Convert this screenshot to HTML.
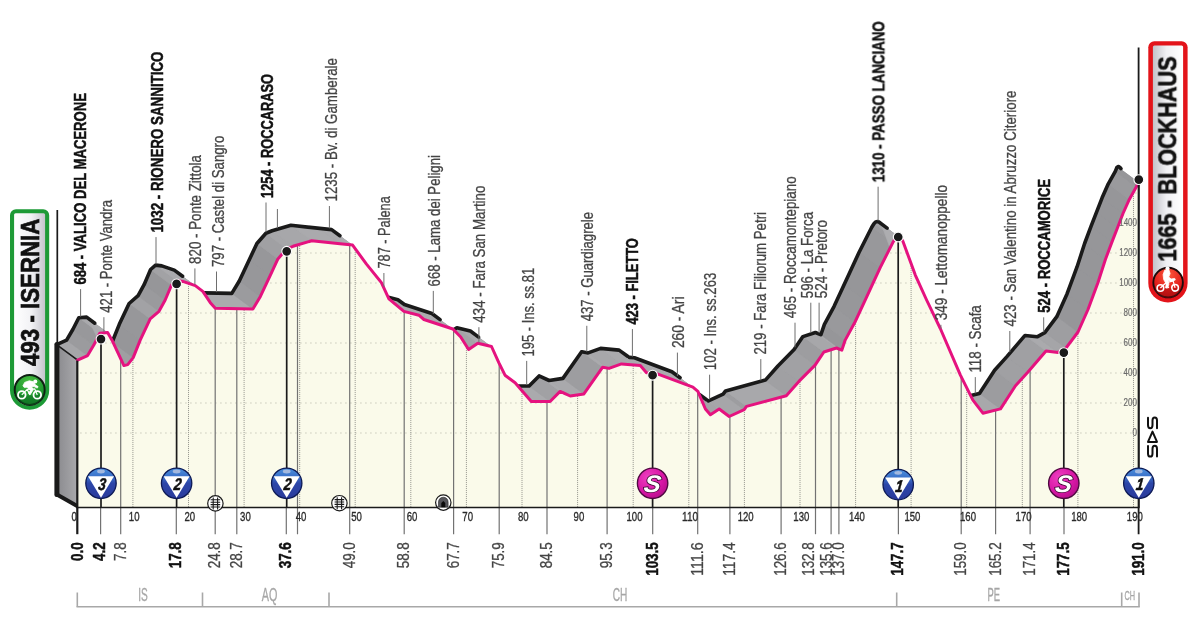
<!DOCTYPE html>
<html lang="en">
<head>
<meta charset="utf-8">
<title>Stage profile: Isernia - Blockhaus</title>
<style>
html,body{margin:0;padding:0;background:#fff;}
body{width:1200px;height:635px;overflow:hidden;font-family:"Liberation Sans",sans-serif;}
svg{display:block;}
svg text{font-family:"Liberation Sans",sans-serif;}
</style>
</head>
<body>
<svg width="1200" height="635" viewBox="0 0 1200 635">
<rect width="1200" height="635" fill="#fff"/>
<g opacity="0.999">
<defs>
<linearGradient id="wallg" x1="0" x2="1" y1="0" y2="0"><stop offset="0" stop-color="#8a8a8e"/><stop offset="1" stop-color="#a9a9ac"/></linearGradient>
<linearGradient id="stg" x1="0" x2="1" y1="0" y2="0"><stop offset="0" stop-color="#ffffff"/><stop offset="0.55" stop-color="#f2f2f5"/><stop offset="1" stop-color="#c4c4cc"/></linearGradient>
<linearGradient id="fig" x1="0" x2="1" y1="0" y2="0"><stop offset="0" stop-color="#c2c2c8"/><stop offset="0.45" stop-color="#f0f0f3"/><stop offset="1" stop-color="#ffffff"/></linearGradient>
<linearGradient id="komg" x1="0" x2="0" y1="0" y2="1"><stop offset="0" stop-color="#4a8fdc"/><stop offset="0.3" stop-color="#3a6fc8"/><stop offset="0.5" stop-color="#2c46a8"/><stop offset="1" stop-color="#2a3a9c"/></linearGradient>
<radialGradient id="sprg" cx="0.35" cy="0.3" r="0.8"><stop offset="0" stop-color="#ee3fc0"/><stop offset="0.6" stop-color="#d816a6"/><stop offset="1" stop-color="#b00e86"/></radialGradient>
<radialGradient id="grng" cx="0.5" cy="0.25" r="0.8"><stop offset="0" stop-color="#4cc040"/><stop offset="0.6" stop-color="#219a32"/><stop offset="1" stop-color="#127a28"/></radialGradient>
<radialGradient id="redg" cx="0.5" cy="0.25" r="0.8"><stop offset="0" stop-color="#ff5a3c"/><stop offset="0.6" stop-color="#e3201c"/><stop offset="1" stop-color="#b80f12"/></radialGradient>
<clipPath id="fc"><polygon points="77.6,360.1 87.6,355.6 93.8,345.1 99.8,333.2 107.6,332.6 112.6,341.3 123.9,365.6 127.7,364.6 133.2,357.6 140.2,340.1 150.2,318.8 159.0,311.3 165.2,300.0 171.5,285.1 176.5,280.6 182.8,281.4 195.3,285.6 202.8,291.4 210.3,302.7 215.3,308.2 252.9,308.9 260.4,296.4 270.4,275.1 277.9,258.9 286.7,248.8 293.0,246.3 311.7,240.8 340.0,243.8 352.6,245.1 366.3,263.9 381.4,282.6 388.9,298.9 403.9,311.4 418.9,315.2 423.9,319.5 452.9,329.0 460.7,337.0 468.6,349.5 477.8,343.2 491.5,346.5 498.8,362.6 505.0,375.2 515.1,382.7 531.3,401.5 550.1,401.5 560.1,391.4 570.2,396.0 583.9,393.9 602.7,367.2 609.0,368.4 621.5,363.9 640.3,365.6 646.5,372.7 655.3,373.2 692.9,387.2 697.9,391.4 705.4,409.0 710.4,414.7 719.2,409.0 729.2,416.5 744.2,409.7 746.5,406.4 786.3,395.7 798.9,381.4 815.1,365.1 823.9,352.0 836.4,348.0 841.8,350.2 845.2,340.1 855.0,322.0 865.2,300.1 880.2,267.6 892.8,242.6 895.0,238.9 896.6,237.4 898.2,236.9 899.8,237.5 901.2,238.6 902.8,241.0 915.3,275.1 926.6,300.0 940.3,328.5 960.4,375.1 972.9,400.2 982.9,413.2 1000.5,408.9 1015.5,385.8 1028.0,372.0 1046.0,351.0 1058.0,352.4 1066.0,348.0 1078.0,332.0 1088.0,309.5 1098.0,282.5 1105.4,259.5 1112.0,241.9 1117.5,227.7 1123.0,213.5 1129.3,199.4 1136.4,186.8 1138.5,181.5 1138.5,507.5 77.6,507.5"/></clipPath>
</defs>
<clipPath id="bc"><polygon points="56.6,344.6 66.6,340.1 72.8,329.5 78.8,317.7 86.6,317.1 107.6,332.6 112.6,341.1 119.3,324.3 129.1,303.5 138.1,295.6 144.1,284.7 150.6,269.5 155.6,265.1 161.8,265.9 174.3,270.1 195.3,285.6 202.6,291.2 203.8,292.9 231.8,293.4 239.3,281.0 257.1,243.2 265.9,233.2 272.1,230.8 290.9,225.3 331.6,229.6 352.6,245.1 366.4,264.0 381.4,282.5 388.1,297.2 397.9,299.7 404.4,304.5 431.9,313.5 452.9,329.0 453.6,329.7 453.9,329.7 456.9,327.7 470.4,331.0 491.6,346.7 498.9,362.7 505.1,375.3 515.1,382.7 518.1,386.0 529.1,386.0 539.1,375.9 549.1,380.5 562.9,378.4 581.6,351.8 581.9,351.7 588.1,352.9 600.6,348.4 619.4,350.2 629.1,357.4 634.4,357.7 671.9,371.7 693.1,387.4 697.9,391.4 699.1,394.2 708.4,400.9 723.1,394.2 725.6,390.9 765.4,380.1 777.9,366.0 794.1,349.6 802.9,336.6 815.4,332.5 820.6,334.6 820.9,334.6 824.4,324.3 834.1,306.3 859.4,251.8 871.9,227.0 874.1,223.3 875.6,221.9 877.1,221.4 878.9,222.0 899.9,237.5 901.1,238.5 902.9,241.1 915.4,275.2 926.6,300.0 940.4,328.6 960.4,375.0 970.6,395.6 979.4,393.4 979.6,393.2 994.6,370.2 1007.1,356.4 1024.8,335.7 1025.1,335.5 1037.1,336.8 1044.8,332.6 1056.8,316.7 1067.1,293.7 1077.1,266.7 1084.6,243.5 1091.1,226.1 1101.8,198.4 1108.3,183.8 1115.3,171.4 1117.3,166.4 1138.3,181.9 1138.5,181.5 1136.4,186.8 1129.3,199.4 1123.0,213.5 1117.5,227.7 1112.0,241.9 1105.4,259.5 1098.0,282.5 1088.0,309.5 1078.0,332.0 1066.0,348.0 1058.0,352.4 1046.0,351.0 1028.0,372.0 1015.5,385.8 1000.5,408.9 982.9,413.2 972.9,400.2 960.4,375.1 940.3,328.5 926.6,300.0 915.3,275.1 902.8,241.0 901.2,238.6 899.8,237.5 898.2,236.9 896.6,237.4 895.0,238.9 892.8,242.6 880.2,267.6 865.2,300.1 855.0,322.0 845.2,340.1 841.8,350.2 836.4,348.0 823.9,352.0 815.1,365.1 798.9,381.4 786.3,395.7 746.5,406.4 744.2,409.7 729.2,416.5 719.2,409.0 710.4,414.7 705.4,409.0 697.9,391.4 692.9,387.2 655.3,373.2 646.5,372.7 640.3,365.6 621.5,363.9 609.0,368.4 602.7,367.2 583.9,393.9 570.2,396.0 560.1,391.4 550.1,401.5 531.3,401.5 515.1,382.7 505.0,375.2 498.8,362.6 491.5,346.5 477.8,343.2 468.6,349.5 460.7,337.0 452.9,329.0 423.9,319.5 418.9,315.2 403.9,311.4 388.9,298.9 381.4,282.6 366.3,263.9 352.6,245.1 340.0,243.8 311.7,240.8 293.0,246.3 286.7,248.8 277.9,258.9 270.4,275.1 260.4,296.4 252.9,308.9 215.3,308.2 210.3,302.7 202.8,291.4 195.3,285.6 182.8,281.4 176.5,280.6 171.5,285.1 165.2,300.0 159.0,311.3 150.2,318.8 140.2,340.1 133.2,357.6 127.7,364.6 123.9,365.6 112.6,341.3 107.6,332.6 99.8,333.2 93.8,345.1 87.6,355.6 77.6,360.1"/></clipPath>
<polygon points="56.6,344.6 66.6,340.1 72.8,329.5 78.8,317.7 86.6,317.1 107.6,332.6 112.6,341.1 119.3,324.3 129.1,303.5 138.1,295.6 144.1,284.7 150.6,269.5 155.6,265.1 161.8,265.9 174.3,270.1 195.3,285.6 202.6,291.2 203.8,292.9 231.8,293.4 239.3,281.0 257.1,243.2 265.9,233.2 272.1,230.8 290.9,225.3 331.6,229.6 352.6,245.1 366.4,264.0 381.4,282.5 388.1,297.2 397.9,299.7 404.4,304.5 431.9,313.5 452.9,329.0 453.6,329.7 453.9,329.7 456.9,327.7 470.4,331.0 491.6,346.7 498.9,362.7 505.1,375.3 515.1,382.7 518.1,386.0 529.1,386.0 539.1,375.9 549.1,380.5 562.9,378.4 581.6,351.8 581.9,351.7 588.1,352.9 600.6,348.4 619.4,350.2 629.1,357.4 634.4,357.7 671.9,371.7 693.1,387.4 697.9,391.4 699.1,394.2 708.4,400.9 723.1,394.2 725.6,390.9 765.4,380.1 777.9,366.0 794.1,349.6 802.9,336.6 815.4,332.5 820.6,334.6 820.9,334.6 824.4,324.3 834.1,306.3 859.4,251.8 871.9,227.0 874.1,223.3 875.6,221.9 877.1,221.4 878.9,222.0 899.9,237.5 901.1,238.5 902.9,241.1 915.4,275.2 926.6,300.0 940.4,328.6 960.4,375.0 970.6,395.6 979.4,393.4 979.6,393.2 994.6,370.2 1007.1,356.4 1024.8,335.7 1025.1,335.5 1037.1,336.8 1044.8,332.6 1056.8,316.7 1067.1,293.7 1077.1,266.7 1084.6,243.5 1091.1,226.1 1101.8,198.4 1108.3,183.8 1115.3,171.4 1117.3,166.4 1138.3,181.9 1138.5,181.5 1136.4,186.8 1129.3,199.4 1123.0,213.5 1117.5,227.7 1112.0,241.9 1105.4,259.5 1098.0,282.5 1088.0,309.5 1078.0,332.0 1066.0,348.0 1058.0,352.4 1046.0,351.0 1028.0,372.0 1015.5,385.8 1000.5,408.9 982.9,413.2 972.9,400.2 960.4,375.1 940.3,328.5 926.6,300.0 915.3,275.1 902.8,241.0 901.2,238.6 899.8,237.5 898.2,236.9 896.6,237.4 895.0,238.9 892.8,242.6 880.2,267.6 865.2,300.1 855.0,322.0 845.2,340.1 841.8,350.2 836.4,348.0 823.9,352.0 815.1,365.1 798.9,381.4 786.3,395.7 746.5,406.4 744.2,409.7 729.2,416.5 719.2,409.0 710.4,414.7 705.4,409.0 697.9,391.4 692.9,387.2 655.3,373.2 646.5,372.7 640.3,365.6 621.5,363.9 609.0,368.4 602.7,367.2 583.9,393.9 570.2,396.0 560.1,391.4 550.1,401.5 531.3,401.5 515.1,382.7 505.0,375.2 498.8,362.6 491.5,346.5 477.8,343.2 468.6,349.5 460.7,337.0 452.9,329.0 423.9,319.5 418.9,315.2 403.9,311.4 388.9,298.9 381.4,282.6 366.3,263.9 352.6,245.1 340.0,243.8 311.7,240.8 293.0,246.3 286.7,248.8 277.9,258.9 270.4,275.1 260.4,296.4 252.9,308.9 215.3,308.2 210.3,302.7 202.8,291.4 195.3,285.6 182.8,281.4 176.5,280.6 171.5,285.1 165.2,300.0 159.0,311.3 150.2,318.8 140.2,340.1 133.2,357.6 127.7,364.6 123.9,365.6 112.6,341.3 107.6,332.6 99.8,333.2 93.8,345.1 87.6,355.6 77.6,360.1" fill="#a4a4a8"/>
<g clip-path="url(#bc)" stroke-linejoin="round">
<polygon points="77.6,360.1 87.6,355.6 66.6,340.1 56.6,344.6" fill="#a6a6a9" stroke="#a6a6a9" stroke-width="0.6"/>
<polygon points="87.6,355.6 93.8,345.1 72.8,329.6 66.6,340.1" fill="#9b9b9e" stroke="#9b9b9e" stroke-width="0.6"/>
<polygon points="93.8,345.1 99.8,333.2 78.8,317.7 72.8,329.6" fill="#98989b" stroke="#98989b" stroke-width="0.6"/>
<polygon points="99.8,333.2 107.6,332.6 86.6,317.1 78.8,317.7" fill="#a9a9ac" stroke="#a9a9ac" stroke-width="0.6"/>
<polygon points="107.6,332.6 112.6,341.3 91.6,325.8 86.6,317.1" fill="#adadb0" stroke="#adadb0" stroke-width="0.6"/>
<polygon points="112.6,341.3 123.9,365.6 102.9,350.1 91.6,325.8" fill="#adadb0" stroke="#adadb0" stroke-width="0.6"/>
<polygon points="123.9,365.6 127.7,364.6 106.7,349.1 102.9,350.1" fill="#a8a8ab" stroke="#a8a8ab" stroke-width="0.6"/>
<polygon points="127.7,364.6 133.2,357.6 112.2,342.1 106.7,349.1" fill="#9f9fa2" stroke="#9f9fa2" stroke-width="0.6"/>
<polygon points="133.2,357.6 140.2,340.1 119.2,324.6 112.2,342.1" fill="#969699" stroke="#969699" stroke-width="0.6"/>
<polygon points="140.2,340.1 150.2,318.8 129.2,303.3 119.2,324.6" fill="#97979a" stroke="#97979a" stroke-width="0.6"/>
<polygon points="150.2,318.8 159.0,311.3 138.0,295.8 129.2,303.3" fill="#a2a2a5" stroke="#a2a2a5" stroke-width="0.6"/>
<polygon points="159.0,311.3 165.2,300.0 144.2,284.5 138.0,295.8" fill="#9a9a9d" stroke="#9a9a9d" stroke-width="0.6"/>
<polygon points="165.2,300.0 171.5,285.1 150.5,269.6 144.2,284.5" fill="#969699" stroke="#969699" stroke-width="0.6"/>
<polygon points="171.5,285.1 176.5,280.6 155.5,265.1 150.5,269.6" fill="#a2a2a5" stroke="#a2a2a5" stroke-width="0.6"/>
<polygon points="176.5,280.6 182.8,281.4 161.8,265.9 155.5,265.1" fill="#aaaaad" stroke="#aaaaad" stroke-width="0.6"/>
<polygon points="182.8,281.4 195.3,285.6 174.3,270.1 161.8,265.9" fill="#ababae" stroke="#ababae" stroke-width="0.6"/>
<polygon points="195.3,285.6 202.8,291.4 181.8,275.9 174.3,270.1" fill="#acacaf" stroke="#acacaf" stroke-width="0.6"/>
<polygon points="202.8,291.4 210.3,302.7 189.3,287.2 181.8,275.9" fill="#adadb0" stroke="#adadb0" stroke-width="0.6"/>
<polygon points="210.3,302.7 215.3,308.2 194.3,292.7 189.3,287.2" fill="#acacaf" stroke="#acacaf" stroke-width="0.6"/>
<polygon points="215.3,308.2 252.9,308.9 231.9,293.4 194.3,292.7" fill="#aaaaad" stroke="#aaaaad" stroke-width="0.6"/>
<polygon points="252.9,308.9 260.4,296.4 239.4,280.9 231.9,293.4" fill="#9b9b9e" stroke="#9b9b9e" stroke-width="0.6"/>
<polygon points="260.4,296.4 270.4,275.1 249.4,259.6 239.4,280.9" fill="#97979a" stroke="#97979a" stroke-width="0.6"/>
<polygon points="270.4,275.1 277.9,258.9 256.9,243.4 249.4,259.6" fill="#97979a" stroke="#97979a" stroke-width="0.6"/>
<polygon points="277.9,258.9 286.7,248.8 265.7,233.3 256.9,243.4" fill="#a0a0a3" stroke="#a0a0a3" stroke-width="0.6"/>
<polygon points="286.7,248.8 293.0,246.3 272.0,230.8 265.7,233.3" fill="#a6a6a9" stroke="#a6a6a9" stroke-width="0.6"/>
<polygon points="293.0,246.3 311.7,240.8 290.7,225.3 272.0,230.8" fill="#a7a7aa" stroke="#a7a7aa" stroke-width="0.6"/>
<polygon points="311.7,240.8 340.0,243.8 319.0,228.3 290.7,225.3" fill="#aaaaad" stroke="#aaaaad" stroke-width="0.6"/>
<polygon points="340.0,243.8 352.6,245.1 331.6,229.6 319.0,228.3" fill="#aaaaad" stroke="#aaaaad" stroke-width="0.6"/>
<polygon points="352.6,245.1 366.3,263.9 345.3,248.4 331.6,229.6" fill="#adadb0" stroke="#adadb0" stroke-width="0.6"/>
<polygon points="366.3,263.9 381.4,282.6 360.4,267.1 345.3,248.4" fill="#acacaf" stroke="#acacaf" stroke-width="0.6"/>
<polygon points="381.4,282.6 388.9,298.9 367.9,283.4 360.4,267.1" fill="#adadb0" stroke="#adadb0" stroke-width="0.6"/>
<polygon points="388.9,298.9 403.9,311.4 382.9,295.9 367.9,283.4" fill="#acacaf" stroke="#acacaf" stroke-width="0.6"/>
<polygon points="403.9,311.4 418.9,315.2 397.9,299.7 382.9,295.9" fill="#ababae" stroke="#ababae" stroke-width="0.6"/>
<polygon points="418.9,315.2 423.9,319.5 402.9,304.0 397.9,299.7" fill="#acacaf" stroke="#acacaf" stroke-width="0.6"/>
<polygon points="423.9,319.5 452.9,329.0 431.9,313.5 402.9,304.0" fill="#ababae" stroke="#ababae" stroke-width="0.6"/>
<polygon points="452.9,329.0 460.7,337.0 439.7,321.5 431.9,313.5" fill="#acacaf" stroke="#acacaf" stroke-width="0.6"/>
<polygon points="460.7,337.0 468.6,349.5 447.6,334.0 439.7,321.5" fill="#adadb0" stroke="#adadb0" stroke-width="0.6"/>
<polygon points="468.6,349.5 477.8,343.2 456.8,327.7 447.6,334.0" fill="#a4a4a7" stroke="#a4a4a7" stroke-width="0.6"/>
<polygon points="477.8,343.2 491.5,346.5 470.5,331.0 456.8,327.7" fill="#aaaaad" stroke="#aaaaad" stroke-width="0.6"/>
<polygon points="491.5,346.5 498.8,362.6 477.8,347.1 470.5,331.0" fill="#adadb0" stroke="#adadb0" stroke-width="0.6"/>
<polygon points="498.8,362.6 505.0,375.2 484.0,359.7 477.8,347.1" fill="#adadb0" stroke="#adadb0" stroke-width="0.6"/>
<polygon points="505.0,375.2 515.1,382.7 494.1,367.2 484.0,359.7" fill="#ababae" stroke="#ababae" stroke-width="0.6"/>
<polygon points="515.1,382.7 531.3,401.5 510.3,386.0 494.1,367.2" fill="#acacaf" stroke="#acacaf" stroke-width="0.6"/>
<polygon points="531.3,401.5 550.1,401.5 529.1,386.0 510.3,386.0" fill="#aaaaad" stroke="#aaaaad" stroke-width="0.6"/>
<polygon points="550.1,401.5 560.1,391.4 539.1,375.9 529.1,386.0" fill="#a1a1a4" stroke="#a1a1a4" stroke-width="0.6"/>
<polygon points="560.1,391.4 570.2,396.0 549.2,380.5 539.1,375.9" fill="#ababae" stroke="#ababae" stroke-width="0.6"/>
<polygon points="570.2,396.0 583.9,393.9 562.9,378.4 549.2,380.5" fill="#a9a9ac" stroke="#a9a9ac" stroke-width="0.6"/>
<polygon points="583.9,393.9 602.7,367.2 581.7,351.7 562.9,378.4" fill="#9d9da0" stroke="#9d9da0" stroke-width="0.6"/>
<polygon points="602.7,367.2 609.0,368.4 588.0,352.9 581.7,351.7" fill="#aaaaad" stroke="#aaaaad" stroke-width="0.6"/>
<polygon points="609.0,368.4 621.5,363.9 600.5,348.4 588.0,352.9" fill="#a7a7aa" stroke="#a7a7aa" stroke-width="0.6"/>
<polygon points="621.5,363.9 640.3,365.6 619.3,350.1 600.5,348.4" fill="#aaaaad" stroke="#aaaaad" stroke-width="0.6"/>
<polygon points="640.3,365.6 646.5,372.7 625.5,357.2 619.3,350.1" fill="#acacaf" stroke="#acacaf" stroke-width="0.6"/>
<polygon points="646.5,372.7 655.3,373.2 634.3,357.7 625.5,357.2" fill="#aaaaad" stroke="#aaaaad" stroke-width="0.6"/>
<polygon points="655.3,373.2 692.9,387.2 671.9,371.7 634.3,357.7" fill="#ababae" stroke="#ababae" stroke-width="0.6"/>
<polygon points="692.9,387.2 697.9,391.4 676.9,375.9 671.9,371.7" fill="#acacaf" stroke="#acacaf" stroke-width="0.6"/>
<polygon points="697.9,391.4 705.4,409.0 684.4,393.5 676.9,375.9" fill="#adadb0" stroke="#adadb0" stroke-width="0.6"/>
<polygon points="705.4,409.0 710.4,414.7 689.4,399.2 684.4,393.5" fill="#acacaf" stroke="#acacaf" stroke-width="0.6"/>
<polygon points="710.4,414.7 719.2,409.0 698.2,393.5 689.4,399.2" fill="#a4a4a7" stroke="#a4a4a7" stroke-width="0.6"/>
<polygon points="719.2,409.0 729.2,416.5 708.2,401.0 698.2,393.5" fill="#acacaf" stroke="#acacaf" stroke-width="0.6"/>
<polygon points="729.2,416.5 744.2,409.7 723.2,394.2 708.2,401.0" fill="#a6a6a9" stroke="#a6a6a9" stroke-width="0.6"/>
<polygon points="744.2,409.7 746.5,406.4 725.5,390.9 723.2,394.2" fill="#9d9da0" stroke="#9d9da0" stroke-width="0.6"/>
<polygon points="746.5,406.4 786.3,395.7 765.3,380.2 725.5,390.9" fill="#a8a8ab" stroke="#a8a8ab" stroke-width="0.6"/>
<polygon points="786.3,395.7 798.9,381.4 777.9,365.9 765.3,380.2" fill="#a0a0a3" stroke="#a0a0a3" stroke-width="0.6"/>
<polygon points="798.9,381.4 815.1,365.1 794.1,349.6 777.9,365.9" fill="#a1a1a4" stroke="#a1a1a4" stroke-width="0.6"/>
<polygon points="815.1,365.1 823.9,352.0 802.9,336.5 794.1,349.6" fill="#9d9da0" stroke="#9d9da0" stroke-width="0.6"/>
<polygon points="823.9,352.0 836.4,348.0 815.4,332.5 802.9,336.5" fill="#a7a7aa" stroke="#a7a7aa" stroke-width="0.6"/>
<polygon points="836.4,348.0 841.8,350.2 820.8,334.7 815.4,332.5" fill="#ababae" stroke="#ababae" stroke-width="0.6"/>
<polygon points="841.8,350.2 845.2,340.1 824.2,324.6 820.8,334.7" fill="#969699" stroke="#969699" stroke-width="0.6"/>
<polygon points="845.2,340.1 855.0,322.0 834.0,306.5 824.2,324.6" fill="#99999c" stroke="#99999c" stroke-width="0.6"/>
<polygon points="855.0,322.0 865.2,300.1 844.2,284.6 834.0,306.5" fill="#97979a" stroke="#97979a" stroke-width="0.6"/>
<polygon points="865.2,300.1 880.2,267.6 859.2,252.1 844.2,284.6" fill="#969699" stroke="#969699" stroke-width="0.6"/>
<polygon points="880.2,267.6 892.8,242.6 871.8,227.1 859.2,252.1" fill="#98989b" stroke="#98989b" stroke-width="0.6"/>
<polygon points="892.8,242.6 895.0,238.9 874.0,223.4 871.8,227.1" fill="#9b9b9e" stroke="#9b9b9e" stroke-width="0.6"/>
<polygon points="895.0,238.9 896.6,237.4 875.6,221.9 874.0,223.4" fill="#a2a2a5" stroke="#a2a2a5" stroke-width="0.6"/>
<polygon points="896.6,237.4 898.2,236.9 877.2,221.4 875.6,221.9" fill="#a7a7aa" stroke="#a7a7aa" stroke-width="0.6"/>
<polygon points="898.2,236.9 899.8,237.5 878.8,222.0 877.2,221.4" fill="#ababae" stroke="#ababae" stroke-width="0.6"/>
<polygon points="899.8,237.5 901.2,238.6 880.2,223.1 878.8,222.0" fill="#acacaf" stroke="#acacaf" stroke-width="0.6"/>
<polygon points="901.2,238.6 902.8,241.0 881.8,225.5 880.2,223.1" fill="#adadb0" stroke="#adadb0" stroke-width="0.6"/>
<polygon points="902.8,241.0 915.3,275.1 894.3,259.6 881.8,225.5" fill="#adadb0" stroke="#adadb0" stroke-width="0.6"/>
<polygon points="915.3,275.1 926.6,300.0 905.6,284.5 894.3,259.6" fill="#adadb0" stroke="#adadb0" stroke-width="0.6"/>
<polygon points="926.6,300.0 940.3,328.5 919.3,313.0 905.6,284.5" fill="#adadb0" stroke="#adadb0" stroke-width="0.6"/>
<polygon points="940.3,328.5 960.4,375.1 939.4,359.6 919.3,313.0" fill="#adadb0" stroke="#adadb0" stroke-width="0.6"/>
<polygon points="960.4,375.1 972.9,400.2 951.9,384.7 939.4,359.6" fill="#adadb0" stroke="#adadb0" stroke-width="0.6"/>
<polygon points="972.9,400.2 982.9,413.2 961.9,397.7 951.9,384.7" fill="#adadb0" stroke="#adadb0" stroke-width="0.6"/>
<polygon points="982.9,413.2 1000.5,408.9 979.5,393.4 961.9,397.7" fill="#a8a8ab" stroke="#a8a8ab" stroke-width="0.6"/>
<polygon points="1000.5,408.9 1015.5,385.8 994.5,370.3 979.5,393.4" fill="#9c9c9f" stroke="#9c9c9f" stroke-width="0.6"/>
<polygon points="1015.5,385.8 1028.0,372.0 1007.0,356.5 994.5,370.3" fill="#a0a0a3" stroke="#a0a0a3" stroke-width="0.6"/>
<polygon points="1028.0,372.0 1046.0,351.0 1025.0,335.5 1007.0,356.5" fill="#a0a0a3" stroke="#a0a0a3" stroke-width="0.6"/>
<polygon points="1046.0,351.0 1058.0,352.4 1037.0,336.9 1025.0,335.5" fill="#aaaaad" stroke="#aaaaad" stroke-width="0.6"/>
<polygon points="1058.0,352.4 1066.0,348.0 1045.0,332.5 1037.0,336.9" fill="#a5a5a8" stroke="#a5a5a8" stroke-width="0.6"/>
<polygon points="1066.0,348.0 1078.0,332.0 1057.0,316.5 1045.0,332.5" fill="#9e9ea1" stroke="#9e9ea1" stroke-width="0.6"/>
<polygon points="1078.0,332.0 1088.0,309.5 1067.0,294.0 1057.0,316.5" fill="#969699" stroke="#969699" stroke-width="0.6"/>
<polygon points="1088.0,309.5 1098.0,282.5 1077.0,267.0 1067.0,294.0" fill="#969699" stroke="#969699" stroke-width="0.6"/>
<polygon points="1098.0,282.5 1105.4,259.5 1084.4,244.0 1077.0,267.0" fill="#969699" stroke="#969699" stroke-width="0.6"/>
<polygon points="1105.4,259.5 1112.0,241.9 1091.0,226.4 1084.4,244.0" fill="#969699" stroke="#969699" stroke-width="0.6"/>
<polygon points="1112.0,241.9 1117.5,227.7 1096.5,212.2 1091.0,226.4" fill="#969699" stroke="#969699" stroke-width="0.6"/>
<polygon points="1117.5,227.7 1123.0,213.5 1102.0,198.0 1096.5,212.2" fill="#969699" stroke="#969699" stroke-width="0.6"/>
<polygon points="1123.0,213.5 1129.3,199.4 1108.3,183.9 1102.0,198.0" fill="#969699" stroke="#969699" stroke-width="0.6"/>
<polygon points="1129.3,199.4 1136.4,186.8 1115.4,171.3 1108.3,183.9" fill="#9a9a9d" stroke="#9a9a9d" stroke-width="0.6"/>
<polygon points="1136.4,186.8 1138.5,181.5 1117.5,166.0 1115.4,171.3" fill="#969699" stroke="#969699" stroke-width="0.6"/>
</g>
<polyline points="56.6,344.6 66.6,340.1 72.8,329.5 78.8,317.7 86.6,317.1 94.8,323.2" fill="none" stroke="#1a1a1a" stroke-width="3.6" stroke-linejoin="round" stroke-linecap="round"/>
<polyline points="112.8,340.5 119.3,324.3 129.1,303.5 138.1,295.6 144.1,284.7 150.6,269.5 155.6,265.1 161.8,265.9 174.3,270.1 182.6,276.2" fill="none" stroke="#1a1a1a" stroke-width="3.6" stroke-linejoin="round" stroke-linecap="round"/>
<polyline points="204.1,292.9 231.8,293.4 239.3,281.0 256.9,243.5 265.9,233.2 272.1,230.8 290.9,225.3 331.6,229.6 339.9,235.7" fill="none" stroke="#1a1a1a" stroke-width="3.6" stroke-linejoin="round" stroke-linecap="round"/>
<polyline points="388.4,297.3 397.9,299.7 404.4,304.5 431.9,313.5 440.1,319.6" fill="none" stroke="#1a1a1a" stroke-width="3.6" stroke-linejoin="round" stroke-linecap="round"/>
<polyline points="454.1,329.5 456.9,327.7 470.4,331.0 478.6,337.1" fill="none" stroke="#1a1a1a" stroke-width="3.6" stroke-linejoin="round" stroke-linecap="round"/>
<polyline points="518.4,386.0 529.1,386.0 539.1,375.9 549.1,380.5 562.9,378.4 581.6,351.8 581.9,351.7 588.1,352.9 600.6,348.4 619.1,350.1 627.6,356.2" fill="none" stroke="#1a1a1a" stroke-width="3.6" stroke-linejoin="round" stroke-linecap="round"/>
<polyline points="629.4,357.4 634.4,357.7 671.9,371.7 680.1,377.8" fill="none" stroke="#1a1a1a" stroke-width="3.6" stroke-linejoin="round" stroke-linecap="round"/>
<polyline points="699.4,394.4 706.6,399.7" fill="none" stroke="#1a1a1a" stroke-width="3.6" stroke-linejoin="round" stroke-linecap="round"/>
<polyline points="708.4,400.9 723.1,394.2 725.6,390.9 765.4,380.1 777.9,366.0 794.1,349.6 802.9,336.6 815.4,332.5 820.6,334.6 820.9,334.6 824.4,324.3 834.1,306.3 859.1,252.3 871.6,227.5 873.9,223.7 875.6,221.9 877.4,221.5 878.9,222.0 887.1,228.1" fill="none" stroke="#1a1a1a" stroke-width="3.6" stroke-linejoin="round" stroke-linecap="round"/>
<polyline points="970.9,395.5 979.4,393.4 979.6,393.2 994.6,370.2 1007.1,356.4 1024.8,335.7 1025.1,335.5 1037.1,336.8 1044.8,332.6 1056.8,316.7 1067.1,293.7 1077.1,266.7 1084.6,243.5 1091.1,226.1 1102.1,197.8 1108.3,183.8 1115.3,171.4 1116.8,167.6 1117.5,166.9 1118.6,166.5 1119.7,167.2 1120.9,168.7" fill="none" stroke="#1a1a1a" stroke-width="3.6" stroke-linejoin="round" stroke-linecap="round"/>
<polygon points="56.6,344.6 77.6,360.1 77.6,507.5 56.6,494.6" fill="url(#wallg)"/>
<polyline points="56.9,344.6 56.9,494.6" fill="none" stroke="#1a1a1a" stroke-width="5" stroke-linejoin="round" stroke-linecap="round"/>
<polyline points="56.9,494.6 77.6,506.3" fill="none" stroke="#1a1a1a" stroke-width="4" stroke-linejoin="round" stroke-linecap="round"/>
<polyline points="56.6,344.6 77.6,360.1" fill="none" stroke="#1a1a1a" stroke-width="1.6" stroke-linecap="round"/>
<polygon points="77.6,360.1 87.6,355.6 93.8,345.1 99.8,333.2 107.6,332.6 112.6,341.3 123.9,365.6 127.7,364.6 133.2,357.6 140.2,340.1 150.2,318.8 159.0,311.3 165.2,300.0 171.5,285.1 176.5,280.6 182.8,281.4 195.3,285.6 202.8,291.4 210.3,302.7 215.3,308.2 252.9,308.9 260.4,296.4 270.4,275.1 277.9,258.9 286.7,248.8 293.0,246.3 311.7,240.8 340.0,243.8 352.6,245.1 366.3,263.9 381.4,282.6 388.9,298.9 403.9,311.4 418.9,315.2 423.9,319.5 452.9,329.0 460.7,337.0 468.6,349.5 477.8,343.2 491.5,346.5 498.8,362.6 505.0,375.2 515.1,382.7 531.3,401.5 550.1,401.5 560.1,391.4 570.2,396.0 583.9,393.9 602.7,367.2 609.0,368.4 621.5,363.9 640.3,365.6 646.5,372.7 655.3,373.2 692.9,387.2 697.9,391.4 705.4,409.0 710.4,414.7 719.2,409.0 729.2,416.5 744.2,409.7 746.5,406.4 786.3,395.7 798.9,381.4 815.1,365.1 823.9,352.0 836.4,348.0 841.8,350.2 845.2,340.1 855.0,322.0 865.2,300.1 880.2,267.6 892.8,242.6 895.0,238.9 896.6,237.4 898.2,236.9 899.8,237.5 901.2,238.6 902.8,241.0 915.3,275.1 926.6,300.0 940.3,328.5 960.4,375.1 972.9,400.2 982.9,413.2 1000.5,408.9 1015.5,385.8 1028.0,372.0 1046.0,351.0 1058.0,352.4 1066.0,348.0 1078.0,332.0 1088.0,309.5 1098.0,282.5 1105.4,259.5 1112.0,241.9 1117.5,227.7 1123.0,213.5 1129.3,199.4 1136.4,186.8 1138.5,181.5 1138.5,507.5 77.6,507.5" fill="#fafaea"/>
<g clip-path="url(#fc)">
<line x1="80.3" y1="433.0" x2="1138" y2="433.0" stroke="#bdbdb0" stroke-width="1.1" stroke-dasharray="1.2 3.8"/>
<line x1="80.3" y1="403.0" x2="1138" y2="403.0" stroke="#bdbdb0" stroke-width="1.1" stroke-dasharray="1.2 3.8"/>
<line x1="80.3" y1="373.0" x2="1138" y2="373.0" stroke="#bdbdb0" stroke-width="1.1" stroke-dasharray="1.2 3.8"/>
<line x1="80.3" y1="343.0" x2="1138" y2="343.0" stroke="#bdbdb0" stroke-width="1.1" stroke-dasharray="1.2 3.8"/>
<line x1="80.3" y1="313.0" x2="1138" y2="313.0" stroke="#bdbdb0" stroke-width="1.1" stroke-dasharray="1.2 3.8"/>
<line x1="80.3" y1="283.0" x2="1138" y2="283.0" stroke="#bdbdb0" stroke-width="1.1" stroke-dasharray="1.2 3.8"/>
<line x1="80.3" y1="253.0" x2="1138" y2="253.0" stroke="#bdbdb0" stroke-width="1.1" stroke-dasharray="1.2 3.8"/>
<line x1="80.3" y1="223.0" x2="1138" y2="223.0" stroke="#bdbdb0" stroke-width="1.1" stroke-dasharray="1.2 3.8"/>
<line x1="80.3" y1="193.0" x2="1138" y2="193.0" stroke="#bdbdb0" stroke-width="1.1" stroke-dasharray="1.2 3.8"/>
<line x1="132.9" y1="150" x2="132.9" y2="507.5" stroke="#9c9c94" stroke-width="1" stroke-dasharray="1.1 0.9"/>
<line x1="188.5" y1="150" x2="188.5" y2="507.5" stroke="#9c9c94" stroke-width="1" stroke-dasharray="1.1 0.9"/>
<line x1="244.1" y1="150" x2="244.1" y2="507.5" stroke="#9c9c94" stroke-width="1" stroke-dasharray="1.1 0.9"/>
<line x1="299.7" y1="150" x2="299.7" y2="507.5" stroke="#9c9c94" stroke-width="1" stroke-dasharray="1.1 0.9"/>
<line x1="355.2" y1="150" x2="355.2" y2="507.5" stroke="#9c9c94" stroke-width="1" stroke-dasharray="1.1 0.9"/>
<line x1="410.8" y1="150" x2="410.8" y2="507.5" stroke="#9c9c94" stroke-width="1" stroke-dasharray="1.1 0.9"/>
<line x1="466.4" y1="150" x2="466.4" y2="507.5" stroke="#9c9c94" stroke-width="1" stroke-dasharray="1.1 0.9"/>
<line x1="522.0" y1="150" x2="522.0" y2="507.5" stroke="#9c9c94" stroke-width="1" stroke-dasharray="1.1 0.9"/>
<line x1="577.6" y1="150" x2="577.6" y2="507.5" stroke="#9c9c94" stroke-width="1" stroke-dasharray="1.1 0.9"/>
<line x1="633.2" y1="150" x2="633.2" y2="507.5" stroke="#9c9c94" stroke-width="1" stroke-dasharray="1.1 0.9"/>
<line x1="688.8" y1="150" x2="688.8" y2="507.5" stroke="#9c9c94" stroke-width="1" stroke-dasharray="1.1 0.9"/>
<line x1="744.4" y1="150" x2="744.4" y2="507.5" stroke="#9c9c94" stroke-width="1" stroke-dasharray="1.1 0.9"/>
<line x1="800.0" y1="150" x2="800.0" y2="507.5" stroke="#9c9c94" stroke-width="1" stroke-dasharray="1.1 0.9"/>
<line x1="855.6" y1="150" x2="855.6" y2="507.5" stroke="#9c9c94" stroke-width="1" stroke-dasharray="1.1 0.9"/>
<line x1="911.1" y1="150" x2="911.1" y2="507.5" stroke="#9c9c94" stroke-width="1" stroke-dasharray="1.1 0.9"/>
<line x1="966.7" y1="150" x2="966.7" y2="507.5" stroke="#9c9c94" stroke-width="1" stroke-dasharray="1.1 0.9"/>
<line x1="1022.3" y1="150" x2="1022.3" y2="507.5" stroke="#9c9c94" stroke-width="1" stroke-dasharray="1.1 0.9"/>
<line x1="1077.9" y1="150" x2="1077.9" y2="507.5" stroke="#9c9c94" stroke-width="1" stroke-dasharray="1.1 0.9"/>
<line x1="1133.5" y1="150" x2="1133.5" y2="507.5" stroke="#9c9c94" stroke-width="1" stroke-dasharray="1.1 0.9"/>
</g>
<line x1="100.6" y1="507.5" x2="100.6" y2="534.2" stroke="#727272" stroke-width="1.2"/>
<line x1="120.7" y1="358.6" x2="120.7" y2="534.2" stroke="#727272" stroke-width="1.2"/>
<line x1="176.3" y1="507.5" x2="176.3" y2="534.2" stroke="#727272" stroke-width="1.2"/>
<line x1="215.2" y1="308.0" x2="215.2" y2="534.2" stroke="#727272" stroke-width="1.2"/>
<line x1="236.8" y1="308.6" x2="236.8" y2="534.2" stroke="#727272" stroke-width="1.2"/>
<line x1="286.3" y1="507.5" x2="286.3" y2="534.2" stroke="#727272" stroke-width="1.2"/>
<line x1="349.7" y1="244.8" x2="349.7" y2="534.2" stroke="#727272" stroke-width="1.2"/>
<line x1="404.2" y1="311.5" x2="404.2" y2="534.2" stroke="#727272" stroke-width="1.2"/>
<line x1="453.6" y1="329.8" x2="453.6" y2="534.2" stroke="#727272" stroke-width="1.2"/>
<line x1="499.2" y1="363.5" x2="499.2" y2="534.2" stroke="#727272" stroke-width="1.2"/>
<line x1="547.0" y1="401.5" x2="547.0" y2="534.2" stroke="#727272" stroke-width="1.2"/>
<line x1="607.1" y1="368.0" x2="607.1" y2="534.2" stroke="#727272" stroke-width="1.2"/>
<line x1="652.7" y1="507.5" x2="652.7" y2="534.2" stroke="#727272" stroke-width="1.2"/>
<line x1="697.7" y1="391.2" x2="697.7" y2="534.2" stroke="#727272" stroke-width="1.2"/>
<line x1="729.9" y1="416.2" x2="729.9" y2="534.2" stroke="#727272" stroke-width="1.2"/>
<line x1="781.1" y1="397.1" x2="781.1" y2="534.2" stroke="#727272" stroke-width="1.2"/>
<line x1="815.5" y1="364.5" x2="815.5" y2="534.2" stroke="#727272" stroke-width="1.2"/>
<line x1="831.1" y1="349.7" x2="831.1" y2="534.2" stroke="#727272" stroke-width="1.2"/>
<line x1="838.9" y1="349.0" x2="838.9" y2="534.2" stroke="#727272" stroke-width="1.2"/>
<line x1="898.4" y1="507.5" x2="898.4" y2="534.2" stroke="#727272" stroke-width="1.2"/>
<line x1="961.2" y1="376.7" x2="961.2" y2="534.2" stroke="#727272" stroke-width="1.2"/>
<line x1="995.6" y1="410.1" x2="995.6" y2="534.2" stroke="#727272" stroke-width="1.2"/>
<line x1="1030.1" y1="369.5" x2="1030.1" y2="534.2" stroke="#727272" stroke-width="1.2"/>
<line x1="1064.0" y1="507.5" x2="1064.0" y2="534.2" stroke="#727272" stroke-width="1.2"/>
<line x1="297.5" y1="245.0" x2="297.5" y2="534.2" stroke="#727272" stroke-width="1.2"/>
<polyline points="77.6,360.1 87.6,355.6 93.8,345.1 99.8,333.2 107.6,332.6 112.6,341.3 123.9,365.6 127.7,364.6 133.2,357.6 140.2,340.1 150.2,318.8 159.0,311.3 165.2,300.0 171.5,285.1 176.5,280.6 182.8,281.4 195.3,285.6 202.8,291.4 210.3,302.7 215.3,308.2 252.9,308.9 260.4,296.4 270.4,275.1 277.9,258.9 286.7,248.8 293.0,246.3 311.7,240.8 340.0,243.8 352.6,245.1 366.3,263.9 381.4,282.6 388.9,298.9 403.9,311.4 418.9,315.2 423.9,319.5 452.9,329.0 460.7,337.0 468.6,349.5 477.8,343.2 491.5,346.5 498.8,362.6 505.0,375.2 515.1,382.7 531.3,401.5 550.1,401.5 560.1,391.4 570.2,396.0 583.9,393.9 602.7,367.2 609.0,368.4 621.5,363.9 640.3,365.6 646.5,372.7 655.3,373.2 692.9,387.2 697.9,391.4 705.4,409.0 710.4,414.7 719.2,409.0 729.2,416.5 744.2,409.7 746.5,406.4 786.3,395.7 798.9,381.4 815.1,365.1 823.9,352.0 836.4,348.0 841.8,350.2 845.2,340.1 855.0,322.0 865.2,300.1 880.2,267.6 892.8,242.6 895.0,238.9 896.6,237.4 898.2,236.9 899.8,237.5 901.2,238.6 902.8,241.0 915.3,275.1 926.6,300.0 940.3,328.5 960.4,375.1 972.9,400.2 982.9,413.2 1000.5,408.9 1015.5,385.8 1028.0,372.0 1046.0,351.0 1058.0,352.4 1066.0,348.0 1078.0,332.0 1088.0,309.5 1098.0,282.5 1105.4,259.5 1112.0,241.9 1117.5,227.7 1123.0,213.5 1129.3,199.4 1136.4,186.8 1138.5,181.5" fill="none" stroke="#e5127f" stroke-width="3" stroke-linejoin="round" stroke-linecap="round"/>
<line x1="77.3" y1="360.6" x2="77.3" y2="534.2" stroke="#1a1a1a" stroke-width="2.2"/>
<line x1="76.3" y1="507.5" x2="1139.5" y2="507.5" stroke="#1a1a1a" stroke-width="1.7"/>
<line x1="1138.6" y1="47.5" x2="1138.6" y2="534.2" stroke="#1a1a1a" stroke-width="1.8"/>
<text x="74.2" y="521.4" font-size="13.4" fill="#2a2a2a" stroke="#2a2a2a" stroke-width="0.35" text-anchor="middle" textLength="5.3" lengthAdjust="spacingAndGlyphs">0</text>
<text x="134.2" y="521.4" font-size="13.4" fill="#2a2a2a" stroke="#2a2a2a" stroke-width="0.35" text-anchor="middle" textLength="10.7" lengthAdjust="spacingAndGlyphs">10</text>
<text x="189.8" y="521.4" font-size="13.4" fill="#2a2a2a" stroke="#2a2a2a" stroke-width="0.35" text-anchor="middle" textLength="10.7" lengthAdjust="spacingAndGlyphs">20</text>
<text x="245.4" y="521.4" font-size="13.4" fill="#2a2a2a" stroke="#2a2a2a" stroke-width="0.35" text-anchor="middle" textLength="10.7" lengthAdjust="spacingAndGlyphs">30</text>
<text x="301.0" y="521.4" font-size="13.4" fill="#2a2a2a" stroke="#2a2a2a" stroke-width="0.35" text-anchor="middle" textLength="10.7" lengthAdjust="spacingAndGlyphs">40</text>
<text x="356.6" y="521.4" font-size="13.4" fill="#2a2a2a" stroke="#2a2a2a" stroke-width="0.35" text-anchor="middle" textLength="10.7" lengthAdjust="spacingAndGlyphs">50</text>
<text x="412.1" y="521.4" font-size="13.4" fill="#2a2a2a" stroke="#2a2a2a" stroke-width="0.35" text-anchor="middle" textLength="10.7" lengthAdjust="spacingAndGlyphs">60</text>
<text x="467.7" y="521.4" font-size="13.4" fill="#2a2a2a" stroke="#2a2a2a" stroke-width="0.35" text-anchor="middle" textLength="10.7" lengthAdjust="spacingAndGlyphs">70</text>
<text x="523.3" y="521.4" font-size="13.4" fill="#2a2a2a" stroke="#2a2a2a" stroke-width="0.35" text-anchor="middle" textLength="10.7" lengthAdjust="spacingAndGlyphs">80</text>
<text x="578.9" y="521.4" font-size="13.4" fill="#2a2a2a" stroke="#2a2a2a" stroke-width="0.35" text-anchor="middle" textLength="10.7" lengthAdjust="spacingAndGlyphs">90</text>
<text x="634.5" y="521.4" font-size="13.4" fill="#2a2a2a" stroke="#2a2a2a" stroke-width="0.35" text-anchor="middle" textLength="16.0" lengthAdjust="spacingAndGlyphs">100</text>
<text x="690.1" y="521.4" font-size="13.4" fill="#2a2a2a" stroke="#2a2a2a" stroke-width="0.35" text-anchor="middle" textLength="16.0" lengthAdjust="spacingAndGlyphs">110</text>
<text x="745.7" y="521.4" font-size="13.4" fill="#2a2a2a" stroke="#2a2a2a" stroke-width="0.35" text-anchor="middle" textLength="16.0" lengthAdjust="spacingAndGlyphs">120</text>
<text x="801.3" y="521.4" font-size="13.4" fill="#2a2a2a" stroke="#2a2a2a" stroke-width="0.35" text-anchor="middle" textLength="16.0" lengthAdjust="spacingAndGlyphs">130</text>
<text x="856.9" y="521.4" font-size="13.4" fill="#2a2a2a" stroke="#2a2a2a" stroke-width="0.35" text-anchor="middle" textLength="16.0" lengthAdjust="spacingAndGlyphs">140</text>
<text x="912.4" y="521.4" font-size="13.4" fill="#2a2a2a" stroke="#2a2a2a" stroke-width="0.35" text-anchor="middle" textLength="16.0" lengthAdjust="spacingAndGlyphs">150</text>
<text x="968.0" y="521.4" font-size="13.4" fill="#2a2a2a" stroke="#2a2a2a" stroke-width="0.35" text-anchor="middle" textLength="16.0" lengthAdjust="spacingAndGlyphs">160</text>
<text x="1023.6" y="521.4" font-size="13.4" fill="#2a2a2a" stroke="#2a2a2a" stroke-width="0.35" text-anchor="middle" textLength="16.0" lengthAdjust="spacingAndGlyphs">170</text>
<text x="1079.2" y="521.4" font-size="13.4" fill="#2a2a2a" stroke="#2a2a2a" stroke-width="0.35" text-anchor="middle" textLength="16.0" lengthAdjust="spacingAndGlyphs">180</text>
<text x="1134.8" y="521.4" font-size="13.4" fill="#2a2a2a" stroke="#2a2a2a" stroke-width="0.35" text-anchor="middle" textLength="16.0" lengthAdjust="spacingAndGlyphs">190</text>
<text transform="translate(82.7,560.9) rotate(-90)" font-size="17.2" font-weight="bold" fill="#111" stroke="#111" stroke-width="0.50" textLength="18.6" lengthAdjust="spacingAndGlyphs">0.0</text>
<text transform="translate(105.0,560.9) rotate(-90)" font-size="17.2" font-weight="bold" fill="#111" stroke="#111" stroke-width="0.50" textLength="18.6" lengthAdjust="spacingAndGlyphs">4.2</text>
<text transform="translate(125.5,560.9) rotate(-90)" font-size="17.0" font-weight="normal" fill="#444" stroke="#444" stroke-width="0.30" textLength="18.6" lengthAdjust="spacingAndGlyphs">7.8</text>
<text transform="translate(181.2,568.3) rotate(-90)" font-size="17.2" font-weight="bold" fill="#111" stroke="#111" stroke-width="0.50" textLength="26.1" lengthAdjust="spacingAndGlyphs">17.8</text>
<text transform="translate(220.0,568.3) rotate(-90)" font-size="17.0" font-weight="normal" fill="#444" stroke="#444" stroke-width="0.30" textLength="26.1" lengthAdjust="spacingAndGlyphs">24.8</text>
<text transform="translate(241.7,568.3) rotate(-90)" font-size="17.0" font-weight="normal" fill="#444" stroke="#444" stroke-width="0.30" textLength="26.1" lengthAdjust="spacingAndGlyphs">28.7</text>
<text transform="translate(291.3,568.3) rotate(-90)" font-size="17.2" font-weight="bold" fill="#111" stroke="#111" stroke-width="0.50" textLength="26.1" lengthAdjust="spacingAndGlyphs">37.6</text>
<text transform="translate(354.6,568.3) rotate(-90)" font-size="17.0" font-weight="normal" fill="#444" stroke="#444" stroke-width="0.30" textLength="26.1" lengthAdjust="spacingAndGlyphs">49.0</text>
<text transform="translate(409.1,568.3) rotate(-90)" font-size="17.0" font-weight="normal" fill="#444" stroke="#444" stroke-width="0.30" textLength="26.1" lengthAdjust="spacingAndGlyphs">58.8</text>
<text transform="translate(458.5,568.3) rotate(-90)" font-size="17.0" font-weight="normal" fill="#444" stroke="#444" stroke-width="0.30" textLength="26.1" lengthAdjust="spacingAndGlyphs">67.7</text>
<text transform="translate(504.1,568.3) rotate(-90)" font-size="17.0" font-weight="normal" fill="#444" stroke="#444" stroke-width="0.30" textLength="26.1" lengthAdjust="spacingAndGlyphs">75.9</text>
<text transform="translate(551.9,568.3) rotate(-90)" font-size="17.0" font-weight="normal" fill="#444" stroke="#444" stroke-width="0.30" textLength="26.1" lengthAdjust="spacingAndGlyphs">84.5</text>
<text transform="translate(612.0,568.3) rotate(-90)" font-size="17.0" font-weight="normal" fill="#444" stroke="#444" stroke-width="0.30" textLength="26.1" lengthAdjust="spacingAndGlyphs">95.3</text>
<text transform="translate(657.6,575.8) rotate(-90)" font-size="17.2" font-weight="bold" fill="#111" stroke="#111" stroke-width="0.50" textLength="33.5" lengthAdjust="spacingAndGlyphs">103.5</text>
<text transform="translate(702.6,575.8) rotate(-90)" font-size="17.0" font-weight="normal" fill="#444" stroke="#444" stroke-width="0.30" textLength="33.5" lengthAdjust="spacingAndGlyphs">111.6</text>
<text transform="translate(734.8,575.8) rotate(-90)" font-size="17.0" font-weight="normal" fill="#444" stroke="#444" stroke-width="0.30" textLength="33.5" lengthAdjust="spacingAndGlyphs">117.4</text>
<text transform="translate(786.0,575.8) rotate(-90)" font-size="17.0" font-weight="normal" fill="#444" stroke="#444" stroke-width="0.30" textLength="33.5" lengthAdjust="spacingAndGlyphs">126.6</text>
<text transform="translate(814.1,575.8) rotate(-90)" font-size="17.0" font-weight="normal" fill="#444" stroke="#444" stroke-width="0.30" textLength="33.5" lengthAdjust="spacingAndGlyphs">132.8</text>
<text transform="translate(831.5,575.8) rotate(-90)" font-size="17.0" font-weight="normal" fill="#444" stroke="#444" stroke-width="0.30" textLength="33.5" lengthAdjust="spacingAndGlyphs">135.6</text>
<text transform="translate(844.2,575.8) rotate(-90)" font-size="17.0" font-weight="normal" fill="#444" stroke="#444" stroke-width="0.30" textLength="33.5" lengthAdjust="spacingAndGlyphs">137.0</text>
<text transform="translate(903.3,575.8) rotate(-90)" font-size="17.2" font-weight="bold" fill="#111" stroke="#111" stroke-width="0.50" textLength="33.5" lengthAdjust="spacingAndGlyphs">147.7</text>
<text transform="translate(966.1,575.8) rotate(-90)" font-size="17.0" font-weight="normal" fill="#444" stroke="#444" stroke-width="0.30" textLength="33.5" lengthAdjust="spacingAndGlyphs">159.0</text>
<text transform="translate(1000.5,575.8) rotate(-90)" font-size="17.0" font-weight="normal" fill="#444" stroke="#444" stroke-width="0.30" textLength="33.5" lengthAdjust="spacingAndGlyphs">165.2</text>
<text transform="translate(1035.0,575.8) rotate(-90)" font-size="17.0" font-weight="normal" fill="#444" stroke="#444" stroke-width="0.30" textLength="33.5" lengthAdjust="spacingAndGlyphs">171.4</text>
<text transform="translate(1069.0,575.8) rotate(-90)" font-size="17.2" font-weight="bold" fill="#111" stroke="#111" stroke-width="0.50" textLength="33.5" lengthAdjust="spacingAndGlyphs">177.5</text>
<text transform="translate(1144.4,575.8) rotate(-90)" font-size="17.2" font-weight="bold" fill="#111" stroke="#111" stroke-width="0.50" textLength="33.5" lengthAdjust="spacingAndGlyphs">191.0</text>
<text clip-path="url(#fc)" x="1137" y="436.4" font-size="10.4" fill="#6c6c6c" stroke="#6c6c6c" stroke-width="0.2" text-anchor="end" textLength="4.5" lengthAdjust="spacingAndGlyphs">0</text>
<text clip-path="url(#fc)" x="1137" y="406.4" font-size="10.4" fill="#6c6c6c" stroke="#6c6c6c" stroke-width="0.2" text-anchor="end" textLength="13.4" lengthAdjust="spacingAndGlyphs">200</text>
<text clip-path="url(#fc)" x="1137" y="376.4" font-size="10.4" fill="#6c6c6c" stroke="#6c6c6c" stroke-width="0.2" text-anchor="end" textLength="13.4" lengthAdjust="spacingAndGlyphs">400</text>
<text clip-path="url(#fc)" x="1137" y="346.4" font-size="10.4" fill="#6c6c6c" stroke="#6c6c6c" stroke-width="0.2" text-anchor="end" textLength="13.4" lengthAdjust="spacingAndGlyphs">600</text>
<text clip-path="url(#fc)" x="1137" y="316.4" font-size="10.4" fill="#6c6c6c" stroke="#6c6c6c" stroke-width="0.2" text-anchor="end" textLength="13.4" lengthAdjust="spacingAndGlyphs">800</text>
<text clip-path="url(#fc)" x="1137" y="286.4" font-size="10.4" fill="#6c6c6c" stroke="#6c6c6c" stroke-width="0.2" text-anchor="end" textLength="17.8" lengthAdjust="spacingAndGlyphs">1000</text>
<text clip-path="url(#fc)" x="1137" y="256.4" font-size="10.4" fill="#6c6c6c" stroke="#6c6c6c" stroke-width="0.2" text-anchor="end" textLength="17.8" lengthAdjust="spacingAndGlyphs">1200</text>
<text clip-path="url(#fc)" x="1137" y="226.4" font-size="10.4" fill="#6c6c6c" stroke="#6c6c6c" stroke-width="0.2" text-anchor="end" textLength="17.8" lengthAdjust="spacingAndGlyphs">1400</text>
<line x1="80.6" y1="289.1" x2="80.6" y2="316.6" stroke="#6e6e6e" stroke-width="1"/>
<text transform="translate(86.0,284.6) rotate(-90)" font-size="17.2" font-weight="bold" fill="#111" stroke="#111" stroke-width="0.50" textLength="191.5" lengthAdjust="spacingAndGlyphs">684 - VALICO DEL MACERONE</text>
<line x1="103.9" y1="317.2" x2="103.9" y2="331.9" stroke="#6e6e6e" stroke-width="1"/>
<text transform="translate(111.6,312.7) rotate(-90)" font-size="17.0" font-weight="normal" fill="#444" stroke="#444" stroke-width="0.30" textLength="112.7" lengthAdjust="spacingAndGlyphs">421 - Ponte Vandra</text>
<line x1="156.0" y1="237.1" x2="156.0" y2="264.2" stroke="#6e6e6e" stroke-width="1"/>
<text transform="translate(162.6,232.6) rotate(-90)" font-size="17.2" font-weight="bold" fill="#111" stroke="#111" stroke-width="0.50" textLength="181.1" lengthAdjust="spacingAndGlyphs">1032 - RIONERO SANNITICO</text>
<line x1="194.9" y1="268.4" x2="194.9" y2="284.5" stroke="#6e6e6e" stroke-width="1"/>
<text transform="translate(201.1,263.9) rotate(-90)" font-size="17.0" font-weight="normal" fill="#444" stroke="#444" stroke-width="0.30" textLength="108.9" lengthAdjust="spacingAndGlyphs">820 - Ponte Zittola</text>
<line x1="216.5" y1="271.5" x2="216.5" y2="292.1" stroke="#6e6e6e" stroke-width="1"/>
<text transform="translate(223.9,267.0) rotate(-90)" font-size="17.0" font-weight="normal" fill="#444" stroke="#444" stroke-width="0.30" textLength="131.3" lengthAdjust="spacingAndGlyphs">797 - Castel di Sangro</text>
<line x1="266.0" y1="202.5" x2="266.0" y2="232.2" stroke="#6e6e6e" stroke-width="1"/>
<text transform="translate(273.1,198.0) rotate(-90)" font-size="17.2" font-weight="bold" fill="#111" stroke="#111" stroke-width="0.50" textLength="124.0" lengthAdjust="spacingAndGlyphs">1254 - ROCCARASO</text>
<line x1="329.4" y1="206.0" x2="329.4" y2="228.4" stroke="#6e6e6e" stroke-width="1"/>
<text transform="translate(336.6,201.5) rotate(-90)" font-size="17.0" font-weight="normal" fill="#444" stroke="#444" stroke-width="0.30" textLength="143.5" lengthAdjust="spacingAndGlyphs">1235 - Bv. di Gamberale</text>
<line x1="383.9" y1="273.0" x2="383.9" y2="287.0" stroke="#6e6e6e" stroke-width="1"/>
<text transform="translate(390.3,268.5) rotate(-90)" font-size="17.0" font-weight="normal" fill="#444" stroke="#444" stroke-width="0.30" textLength="72.3" lengthAdjust="spacingAndGlyphs">787 - Palena</text>
<line x1="433.3" y1="290.9" x2="433.3" y2="314.0" stroke="#6e6e6e" stroke-width="1"/>
<text transform="translate(439.8,286.4) rotate(-90)" font-size="17.0" font-weight="normal" fill="#444" stroke="#444" stroke-width="0.30" textLength="131.4" lengthAdjust="spacingAndGlyphs">668 - Lama dei Peligni</text>
<line x1="478.9" y1="327.2" x2="478.9" y2="342.5" stroke="#6e6e6e" stroke-width="1"/>
<text transform="translate(485.1,322.7) rotate(-90)" font-size="17.0" font-weight="normal" fill="#444" stroke="#444" stroke-width="0.30" textLength="137.1" lengthAdjust="spacingAndGlyphs">434 - Fara San Martino</text>
<line x1="526.7" y1="360.9" x2="526.7" y2="385.0" stroke="#6e6e6e" stroke-width="1"/>
<text transform="translate(533.9,356.4) rotate(-90)" font-size="17.0" font-weight="normal" fill="#444" stroke="#444" stroke-width="0.30" textLength="88.7" lengthAdjust="spacingAndGlyphs">195 - Ins. ss.81</text>
<line x1="586.8" y1="325.8" x2="586.8" y2="351.7" stroke="#6e6e6e" stroke-width="1"/>
<text transform="translate(592.6,321.3) rotate(-90)" font-size="17.0" font-weight="normal" fill="#444" stroke="#444" stroke-width="0.30" textLength="109.3" lengthAdjust="spacingAndGlyphs">437 - Guardiagrele</text>
<line x1="632.4" y1="329.1" x2="632.4" y2="356.6" stroke="#6e6e6e" stroke-width="1"/>
<text transform="translate(638.4,324.6) rotate(-90)" font-size="17.2" font-weight="bold" fill="#111" stroke="#111" stroke-width="0.50" textLength="86.5" lengthAdjust="spacingAndGlyphs">423 - FILETTO</text>
<line x1="677.4" y1="352.6" x2="677.4" y2="376.0" stroke="#6e6e6e" stroke-width="1"/>
<text transform="translate(683.7,348.1) rotate(-90)" font-size="17.0" font-weight="normal" fill="#444" stroke="#444" stroke-width="0.30" textLength="51.6" lengthAdjust="spacingAndGlyphs">260 - Ari</text>
<line x1="709.6" y1="374.7" x2="709.6" y2="399.4" stroke="#6e6e6e" stroke-width="1"/>
<text transform="translate(716.3,370.2) rotate(-90)" font-size="17.0" font-weight="normal" fill="#444" stroke="#444" stroke-width="0.30" textLength="97.5" lengthAdjust="spacingAndGlyphs">102 - Ins. ss.263</text>
<line x1="760.8" y1="359.1" x2="760.8" y2="380.4" stroke="#6e6e6e" stroke-width="1"/>
<text transform="translate(766.4,354.6) rotate(-90)" font-size="17.0" font-weight="normal" fill="#444" stroke="#444" stroke-width="0.30" textLength="142.6" lengthAdjust="spacingAndGlyphs">219 - Fara Filiorum Petri</text>
<line x1="795.0" y1="322.7" x2="795.0" y2="347.3" stroke="#6e6e6e" stroke-width="1"/>
<text transform="translate(796.4,318.2) rotate(-90)" font-size="17.0" font-weight="normal" fill="#444" stroke="#444" stroke-width="0.30" textLength="141.8" lengthAdjust="spacingAndGlyphs">465 - Roccamontepiano</text>
<line x1="810.8" y1="302.7" x2="810.8" y2="333.0" stroke="#6e6e6e" stroke-width="1"/>
<text transform="translate(813.1,298.2) rotate(-90)" font-size="17.0" font-weight="normal" fill="#444" stroke="#444" stroke-width="0.30" textLength="86.2" lengthAdjust="spacingAndGlyphs">596 - La Forca</text>
<line x1="819.1" y1="302.7" x2="819.1" y2="333.0" stroke="#6e6e6e" stroke-width="1"/>
<text transform="translate(826.5,298.2) rotate(-90)" font-size="17.0" font-weight="normal" fill="#444" stroke="#444" stroke-width="0.30" textLength="78.2" lengthAdjust="spacingAndGlyphs">524 - Pretoro</text>
<line x1="878.1" y1="186.7" x2="878.1" y2="220.7" stroke="#6e6e6e" stroke-width="1"/>
<text transform="translate(884.4,182.2) rotate(-90)" font-size="17.2" font-weight="bold" fill="#111" stroke="#111" stroke-width="0.50" textLength="160.9" lengthAdjust="spacingAndGlyphs">1310 - PASSO LANCIANO</text>
<line x1="940.9" y1="324.8" x2="940.9" y2="328.8" stroke="#6e6e6e" stroke-width="1"/>
<text transform="translate(947.4,320.3) rotate(-90)" font-size="17.0" font-weight="normal" fill="#444" stroke="#444" stroke-width="0.30" textLength="135.3" lengthAdjust="spacingAndGlyphs">349 - Lettomanoppello</text>
<line x1="975.3" y1="377.1" x2="975.3" y2="393.4" stroke="#6e6e6e" stroke-width="1"/>
<text transform="translate(980.6,372.6) rotate(-90)" font-size="17.0" font-weight="normal" fill="#444" stroke="#444" stroke-width="0.30" textLength="67.4" lengthAdjust="spacingAndGlyphs">118 - Scafa</text>
<line x1="1009.8" y1="331.0" x2="1009.8" y2="352.2" stroke="#6e6e6e" stroke-width="1"/>
<text transform="translate(1015.6,326.5) rotate(-90)" font-size="17.0" font-weight="normal" fill="#444" stroke="#444" stroke-width="0.30" textLength="236.0" lengthAdjust="spacingAndGlyphs">423 - San Valentino in Abruzzo Citeriore</text>
<line x1="1043.7" y1="317.3" x2="1043.7" y2="332.2" stroke="#6e6e6e" stroke-width="1"/>
<text transform="translate(1050.0,312.8) rotate(-90)" font-size="17.2" font-weight="bold" fill="#111" stroke="#111" stroke-width="0.50" textLength="133.9" lengthAdjust="spacingAndGlyphs">524 - ROCCAMORICE</text>
<line x1="277.4" y1="209" x2="277.4" y2="228.2" stroke="#6e6e6e" stroke-width="1"/>
<line x1="101.0" y1="339.1" x2="101.0" y2="507.5" stroke="#1a1a1a" stroke-width="1.7"/>
<circle cx="101.0" cy="339.1" r="4.9" fill="#1a1a1a" stroke="#fff" stroke-width="1.1"/>
<g transform="translate(101.0,483.3)">
<circle r="15.2" fill="url(#komg)" stroke="#0d1a55" stroke-width="1.3"/>
<ellipse cx="0" cy="-11.8" rx="3.9" ry="1.9" fill="#aebfe0" opacity="0.9"/>
<polygon points="-13,-7.1 13,-7.1 0,14.4" fill="#fff"/>
<text x="1.3" y="7" transform="skewX(-7)" font-size="17" font-weight="bold" font-style="italic" fill="#111" text-anchor="middle" stroke="#111" stroke-width="0.5" textLength="7.6" lengthAdjust="spacingAndGlyphs">3</text>
</g>
<line x1="176.6" y1="283.9" x2="176.6" y2="507.5" stroke="#1a1a1a" stroke-width="1.7"/>
<circle cx="176.6" cy="283.9" r="4.9" fill="#1a1a1a" stroke="#fff" stroke-width="1.1"/>
<g transform="translate(176.6,483.3)">
<circle r="15.2" fill="url(#komg)" stroke="#0d1a55" stroke-width="1.3"/>
<ellipse cx="0" cy="-11.8" rx="3.9" ry="1.9" fill="#aebfe0" opacity="0.9"/>
<polygon points="-13,-7.1 13,-7.1 0,14.4" fill="#fff"/>
<text x="1.3" y="7" transform="skewX(-7)" font-size="17" font-weight="bold" font-style="italic" fill="#111" text-anchor="middle" stroke="#111" stroke-width="0.5" textLength="7.6" lengthAdjust="spacingAndGlyphs">2</text>
</g>
<line x1="286.7" y1="251.3" x2="286.7" y2="507.5" stroke="#1a1a1a" stroke-width="1.7"/>
<circle cx="286.7" cy="251.3" r="4.9" fill="#1a1a1a" stroke="#fff" stroke-width="1.1"/>
<g transform="translate(286.7,483.3)">
<circle r="15.2" fill="url(#komg)" stroke="#0d1a55" stroke-width="1.3"/>
<ellipse cx="0" cy="-11.8" rx="3.9" ry="1.9" fill="#aebfe0" opacity="0.9"/>
<polygon points="-13,-7.1 13,-7.1 0,14.4" fill="#fff"/>
<text x="1.3" y="7" transform="skewX(-7)" font-size="17" font-weight="bold" font-style="italic" fill="#111" text-anchor="middle" stroke="#111" stroke-width="0.5" textLength="7.6" lengthAdjust="spacingAndGlyphs">2</text>
</g>
<line x1="652.6" y1="375.2" x2="652.6" y2="507.5" stroke="#1a1a1a" stroke-width="1.7"/>
<circle cx="652.6" cy="375.2" r="4.9" fill="#1a1a1a" stroke="#fff" stroke-width="1.1"/>
<g transform="translate(652.6,483.3)">
<circle r="15.2" fill="url(#sprg)" stroke="#4e0a40" stroke-width="1.4"/>
<text x="0" y="8.2" transform="skewX(-8)" font-size="24" font-weight="bold" font-style="italic" fill="#fff" stroke="#3c0832" stroke-width="1.6" paint-order="stroke" text-anchor="middle" textLength="17" lengthAdjust="spacingAndGlyphs">S</text>
</g>
<line x1="898.2" y1="237.0" x2="898.2" y2="507.5" stroke="#1a1a1a" stroke-width="1.7"/>
<circle cx="898.2" cy="237.0" r="4.9" fill="#1a1a1a" stroke="#fff" stroke-width="1.1"/>
<g transform="translate(898.2,484.6)">
<circle r="15.2" fill="url(#komg)" stroke="#0d1a55" stroke-width="1.3"/>
<ellipse cx="0" cy="-11.8" rx="3.9" ry="1.9" fill="#aebfe0" opacity="0.9"/>
<polygon points="-13,-7.1 13,-7.1 0,14.4" fill="#fff"/>
<text x="1.3" y="7" transform="skewX(-7)" font-size="17" font-weight="bold" font-style="italic" fill="#111" text-anchor="middle" stroke="#111" stroke-width="0.5" textLength="7.6" lengthAdjust="spacingAndGlyphs">1</text>
</g>
<line x1="1063.8" y1="352.6" x2="1063.8" y2="507.5" stroke="#1a1a1a" stroke-width="1.7"/>
<circle cx="1063.8" cy="352.6" r="4.9" fill="#1a1a1a" stroke="#fff" stroke-width="1.1"/>
<g transform="translate(1063.8,483.3)">
<circle r="15.2" fill="url(#sprg)" stroke="#4e0a40" stroke-width="1.4"/>
<text x="0" y="8.2" transform="skewX(-8)" font-size="24" font-weight="bold" font-style="italic" fill="#fff" stroke="#3c0832" stroke-width="1.6" paint-order="stroke" text-anchor="middle" textLength="17" lengthAdjust="spacingAndGlyphs">S</text>
</g>
<line x1="1138.8" y1="179.6" x2="1138.8" y2="507.5" stroke="#1a1a1a" stroke-width="1.7"/>
<circle cx="1138.8" cy="179.6" r="4.9" fill="#1a1a1a" stroke="#fff" stroke-width="1.1"/>
<g transform="translate(1138.8,483.3)">
<circle r="15.2" fill="url(#komg)" stroke="#0d1a55" stroke-width="1.3"/>
<ellipse cx="0" cy="-11.8" rx="3.9" ry="1.9" fill="#aebfe0" opacity="0.9"/>
<polygon points="-13,-7.1 13,-7.1 0,14.4" fill="#fff"/>
<text x="1.3" y="7" transform="skewX(-7)" font-size="17" font-weight="bold" font-style="italic" fill="#111" text-anchor="middle" stroke="#111" stroke-width="0.5" textLength="7.6" lengthAdjust="spacingAndGlyphs">1</text>
</g>
<g transform="translate(215.4,503.4)">
<circle r="7.7" fill="#fff" stroke="#1a1a1a" stroke-width="1.2"/>
<path d="M-2.2,-6 V6 M2.2,-6 V6 M-4.8,-3.6 H4.8 M-4.8,-1.2 H4.8 M-4.8,1.2 H4.8 M-4.8,3.6 H4.8" stroke="#1a1a1a" stroke-width="1.1" fill="none"/>
</g>
<g transform="translate(339.4,503.2)">
<circle r="7.7" fill="#fff" stroke="#1a1a1a" stroke-width="1.2"/>
<path d="M-2.2,-6 V6 M2.2,-6 V6 M-4.8,-3.6 H4.8 M-4.8,-1.2 H4.8 M-4.8,1.2 H4.8 M-4.8,3.6 H4.8" stroke="#1a1a1a" stroke-width="1.1" fill="none"/>
</g>
<g transform="translate(443.3,502.6)">
<circle r="7.7" fill="#fff" stroke="#1a1a1a" stroke-width="1.2"/>
<path d="M-4.8,4.6 V-0.6 A4.8,4.8 0 0 1 4.8,-0.6 V4.6 Z" fill="#55555a" stroke="#222" stroke-width="0.6"/>
<path d="M-2,4.6 V0.4 L0,-1.6 L2,0.4 V4.6 Z" fill="#0a0a0a"/>
</g>
<path d="M76.5,606.7 H1139.8" stroke="#a8a8a8" stroke-width="1.6" fill="none"/>
<line x1="77.3" y1="592.5" x2="77.3" y2="606.7" stroke="#a8a8a8" stroke-width="1.6"/>
<line x1="202.5" y1="592.5" x2="202.5" y2="606.7" stroke="#a8a8a8" stroke-width="1.6"/>
<line x1="329.0" y1="592.5" x2="329.0" y2="606.7" stroke="#a8a8a8" stroke-width="1.6"/>
<line x1="896.7" y1="592.5" x2="896.7" y2="606.7" stroke="#a8a8a8" stroke-width="1.6"/>
<line x1="1121.7" y1="592.5" x2="1121.7" y2="606.7" stroke="#a8a8a8" stroke-width="1.6"/>
<line x1="1139.0" y1="592.5" x2="1139.0" y2="606.7" stroke="#a8a8a8" stroke-width="1.6"/>
<text x="143.0" y="601.3" font-size="17.5" fill="#a6a6a6" stroke="#a6a6a6" stroke-width="0.3" text-anchor="middle" textLength="9.6" lengthAdjust="spacingAndGlyphs">IS</text>
<text x="269.5" y="601.3" font-size="17.5" fill="#a6a6a6" stroke="#a6a6a6" stroke-width="0.3" text-anchor="middle" textLength="15.6" lengthAdjust="spacingAndGlyphs">AQ</text>
<text x="620.0" y="601.3" font-size="17.5" fill="#a6a6a6" stroke="#a6a6a6" stroke-width="0.3" text-anchor="middle" textLength="14.6" lengthAdjust="spacingAndGlyphs">CH</text>
<text x="993.8" y="601.3" font-size="17.5" fill="#a6a6a6" stroke="#a6a6a6" stroke-width="0.3" text-anchor="middle" textLength="12.6" lengthAdjust="spacingAndGlyphs">PE</text>
<text x="1129.8" y="599.5" font-size="12.5" fill="#a6a6a6" stroke="#a6a6a6" stroke-width="0.3" text-anchor="middle" textLength="10.6" lengthAdjust="spacingAndGlyphs">CH</text>
<g transform="translate(1157.9,457.6) rotate(-90)" fill="none" stroke="#111" stroke-width="2" stroke-linecap="round" stroke-linejoin="round">
<path d="M11.5,-9.9 H4.2 Q1,-9.9 1,-7.65 Q1,-5.4 4.2,-5.4 H8.6 Q11.8,-5.4 11.8,-3.15 Q11.8,-0.9 8.6,-0.9 H1"/>
<path d="M15.7,-0.9 V-9.9 L26,-5.4 Z"/>
<path d="M39.9,-9.9 H32.6 Q29.4,-9.9 29.4,-7.65 Q29.4,-5.4 32.6,-5.4 H37 Q40.2,-5.4 40.2,-3.15 Q40.2,-0.9 37,-0.9 H29.4"/>
</g>
<path d="M16,209.3 H43.2 A6,6 0 0 1 49.2,215.3 V390.2 A19.6,19.6 0 0 1 10,390.2 V215.3 A6,6 0 0 1 16,209.3 Z" fill="#1d9a36"/>
<path d="M15.6,213.3 H43.6 A1.5,1.5 0 0 1 45.1,214.8 V390.2 A15.5,15.5 0 0 1 14.1,390.2 V214.8 A1.5,1.5 0 0 1 15.6,213.3 Z" fill="url(#stg)"/>
<circle cx="29.7" cy="389.9" r="15" fill="url(#grng)" stroke="#0e1f12" stroke-width="2"/>
<path d="M15.6,393 A14.2,14.2 0 0 0 43.8,393 Q29.7,398 15.6,393 Z" fill="#0d6a1e" opacity="0.45"/>
<g transform="translate(29.7,390.0)" fill="none" stroke="#fff">
<circle cx="-7.9" cy="4.9" r="3.8" stroke-width="1.8"/>
<circle cx="7.6" cy="4.9" r="3.8" stroke-width="1.8"/>
<path d="M-7.9,4.9 L-2.6,-0.6 L0.4,4.9 M-2.6,-0.6 L5,-1.2 L7.6,4.9" stroke-width="1.2"/>
<path d="M-6.8,-4 L-5,-7.6 L-0.4,-9.2 L3.6,-8.2 L5.8,-5 L8.4,-3.4 L7.6,-1.9 L4.4,-3.4 L2,-3.6 L3.4,0 L0.6,4.4 L-1,3.8 L0.6,0.2 L-2.6,-2.8 L-5.4,-2.6 Z" fill="#fff" stroke-width="0.8" stroke-linejoin="round"/>
<circle cx="5.6" cy="-8.4" r="2" fill="#fff" stroke="none"/>
</g>
<text transform="translate(38.6,366.0) rotate(-90)" font-size="25.5" font-weight="bold" fill="#111" stroke="#111" stroke-width="0.70" textLength="147.4" lengthAdjust="spacingAndGlyphs">493 - ISERNIA</text>
<line x1="57.3" y1="210" x2="57.3" y2="344.6" stroke="#1a1a1a" stroke-width="1.7"/>
<path d="M1154.3,41.3 H1181.6 A6,6 0 0 1 1187.6,47.3 V283 A19.65,19.65 0 0 1 1148.3,283 V47.3 A6,6 0 0 1 1154.3,41.3 Z" fill="#e3141a"/>
<path d="M1154.4,45.5 H1181.6 A1.5,1.5 0 0 1 1183.1,47 V283 A15.1,15.1 0 0 1 1152.9,283 V47 A1.5,1.5 0 0 1 1154.4,45.5 Z" fill="url(#fig)"/>
<circle cx="1168.1" cy="282.6" r="14.8" fill="url(#redg)" stroke="#1c0a0a" stroke-width="1.9"/>
<path d="M1154.3,286 A13.9,13.9 0 0 0 1181.9,286 Q1168.1,291 1154.3,286 Z" fill="#9a0c0c" opacity="0.4"/>
<g transform="translate(1168.1,282.6)" fill="none" stroke="#fff">
<circle cx="-7.7" cy="5.4" r="3.3" stroke-width="1.6"/>
<circle cx="7" cy="5.2" r="3.3" stroke-width="1.6"/>
<path d="M-7.7,5.4 L-2.4,0.4 L0.6,5.4 M-2.4,0.4 L5,-1.8 L7,5.2" stroke-width="1.2"/>
<path d="M-3.4,-12.4 L0.8,-12.8 L2,-9 L0.6,-5.6 L3,-3.6 L6.6,-4.2 L7.2,-2.6 L2.8,-1.2 L0,-2.4 L0.8,1.6 L-0.8,5.6 L-2.6,5.2 L-1.8,1.4 L-4.4,-3 L-5,-8 Z" fill="#fff" stroke-width="0.8" stroke-linejoin="round"/>
<circle cx="-0.6" cy="-14.2" r="2.1" fill="#fff" stroke="none"/>
</g>
<text transform="translate(1176.3,261.6) rotate(-90)" font-size="25.5" font-weight="bold" fill="#111" stroke="#111" stroke-width="0.70" textLength="205.1" lengthAdjust="spacingAndGlyphs">1665 - BLOCKHAUS</text>
</g>
</svg>
</body>
</html>
